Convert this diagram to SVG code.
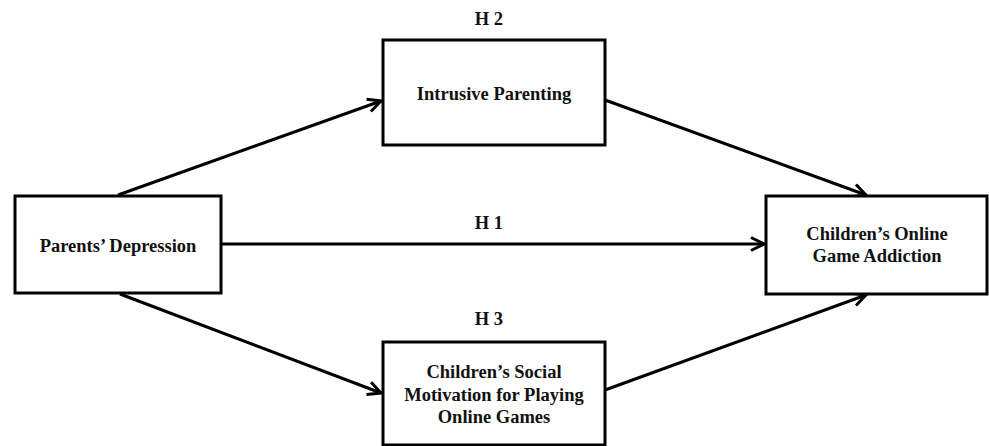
<svg xmlns="http://www.w3.org/2000/svg" width="989" height="446" viewBox="0 0 989 446">
<defs>
<style>
.box{fill:#fff;stroke:#000;stroke-width:3}
.lbl{font-family:"Liberation Serif","Times New Roman",serif;font-weight:bold;font-size:18.5px;fill:#111;text-anchor:middle}
.edge{stroke:#000;stroke-width:3;fill:none;marker-end:url(#arr)}
</style>
<marker id="arr" markerUnits="userSpaceOnUse" viewBox="-16 -9 18 18" markerWidth="18" markerHeight="18" refX="0" refY="0" orient="auto">
<path d="M-13,-6.5 L0,0 L-13,6.5" fill="none" stroke="#000" stroke-width="3" stroke-linejoin="miter"/>
</marker>
</defs>
<rect width="989" height="446" fill="#fff"/>
<g id="connectors">
<line class="edge" x1="118" y1="195" x2="381" y2="101"/>
<line class="edge" x1="120" y1="294" x2="381" y2="393"/>
<line class="edge" x1="221" y1="244" x2="764" y2="244"/>
<line class="edge" x1="605" y1="100" x2="866" y2="195"/>
<line class="edge" x1="605" y1="390" x2="866" y2="295"/>
</g>
<g id="parents-depression">
<rect class="box" x="15" y="196" width="206" height="97"/>
<text class="lbl" x="118" y="252">Parents’ Depression</text>
</g>
<g id="intrusive-parenting">
<rect class="box" x="383" y="40" width="222" height="105"/>
<text class="lbl" x="494" y="100">Intrusive Parenting</text>
</g>
<g id="social-motivation">
<rect class="box" x="383" y="342" width="222" height="103"/>
<text class="lbl" x="494" y="378">Children’s Social</text>
<text class="lbl" x="494" y="400.5">Motivation for Playing</text>
<text class="lbl" x="494" y="423">Online Games</text>
</g>
<g id="online-game-addiction">
<rect class="box" x="766" y="196" width="221" height="98"/>
<text class="lbl" x="877" y="240">Children’s Online</text>
<text class="lbl" x="877" y="262">Game Addiction</text>
</g>
<g id="hypothesis-labels">
<text class="lbl" x="489" y="25">H 2</text>
<text class="lbl" x="489" y="229">H 1</text>
<text class="lbl" x="489" y="325">H 3</text>
</g>
</svg>
